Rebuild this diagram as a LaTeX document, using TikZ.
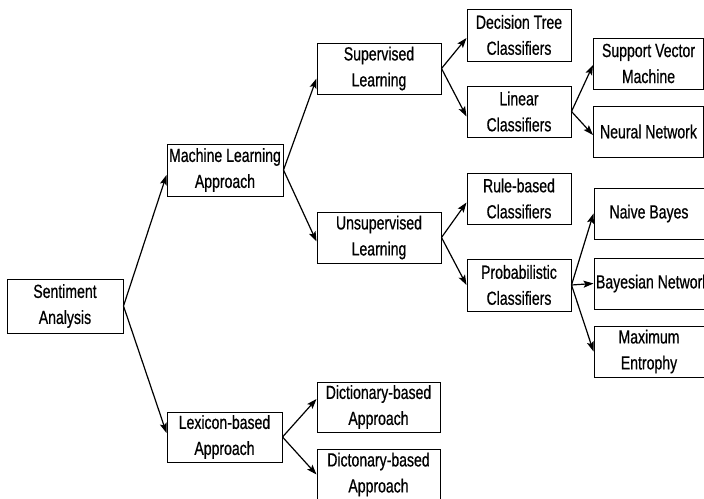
\documentclass[tikz,border=0pt]{standalone}
\usepackage{fontspec}
\setmainfont[FakeStretch=0.74,FakeBold=0.6]{Liberation Sans}
\usetikzlibrary{arrows.meta,calc}
\begin{document}
\begin{tikzpicture}[x=1pt,y=-1pt,
  box/.style={draw=black, line width=1pt, align=center, inner sep=0pt,
    font=\fontsize{19}{26}\selectfont, text=black},
  conn/.style={line width=1.2pt, -{Stealth[length=10pt,width=7pt,inset=2pt]}}]
\useasboundingbox (0,0) rectangle (704,498);
\fill[white] (0,0) rectangle (704,498);
% level 0
\node[box, minimum width=116pt, minimum height=54pt] (sa) at (65,306) {Sentiment\\Analysis};
% level 1
\node[box, minimum width=116pt, minimum height=52pt] (ml) at (225,170) {Machine Learning\\Approach};
\node[box, minimum width=115pt, minimum height=50pt] (lb) at (224.5,437) {Lexicon-based\\Approach};
% level 2
\node[box, minimum width=124pt, minimum height=51pt] (sl) at (379,68.5) {Supervised\\Learning};
\node[box, minimum width=124pt, minimum height=51pt] (ul) at (379,237.5) {Unsupervised\\Learning};
\node[box, minimum width=123pt, minimum height=50pt] (db1) at (378.5,407) {Dictionary-based\\Approach};
\node[box, minimum width=123pt, minimum height=51pt] (db2) at (378.5,474.5) {Dictonary-based\\Approach};
% level 3
\node[box, minimum width=104pt, minimum height=52pt] (dt) at (519,35) {Decision Tree\\Classifiers};
\node[box, minimum width=104pt, minimum height=51pt] (lc) at (519,111.5) {Linear\\Classifiers};
\node[box, minimum width=104pt, minimum height=51pt] (rb) at (519,198.5) {Rule-based\\Classifiers};
\node[box, minimum width=104pt, minimum height=52pt] (pc) at (519,285) {Probabilistic\\Classifiers};
% level 4
\node[box, minimum width=110pt, minimum height=51pt] (svm) at (648.5,63.5) {Support Vector\\Machine};
\node[box, minimum width=110pt, minimum height=51pt] (nn) at (648.5,131.5) {Neural Network};
\node[box, minimum width=110pt, minimum height=51pt] (nb) at (649,213.5) {Naive Bayes};
\node[box, minimum width=110pt, minimum height=51pt] (bn) at (649,283.5) {\makebox[110pt][l]{\hspace*{2pt}Bayesian Network}};
\node[box, minimum width=110pt, minimum height=51pt] (me) at (649,351.5) {Maximum\\Entrophy};
% connectors
\draw[conn] (sa.east) -- ($(ml.west)+(0,5)$);
\draw[conn] (sa.east) -- ($(lb.west)+(0,-4)$);
\draw[conn] (ml.east) -- ($(sl.west)+(0,10)$);
\draw[conn] (ml.east) -- ($(ul.west)+(0,4)$);
\draw[conn] (lb.east) -- ($(db1.west)+(0,-8)$);
\draw[conn] (lb.east) -- (db2.west);
\draw[conn] (sl.east) -- ($(dt.west)+(0,3)$);
\draw[conn] (sl.east) -- ($(lc.west)+(0,5)$);
\draw[conn] (ul.east) -- ($(rb.west)+(0,4)$);
\draw[conn] (ul.east) -- (pc.west);
\draw[conn] (lc.east) -- ($(svm.west)+(0,1.5)$);
\draw[conn] (lc.east) -- ($(nn.west)+(0,3.5)$);
\draw[conn] (pc.east) -- (nb.west);
\draw[conn] (pc.east) -- (bn.west);
\draw[conn] (pc.east) -- (me.west);
\end{tikzpicture}
\end{document}
